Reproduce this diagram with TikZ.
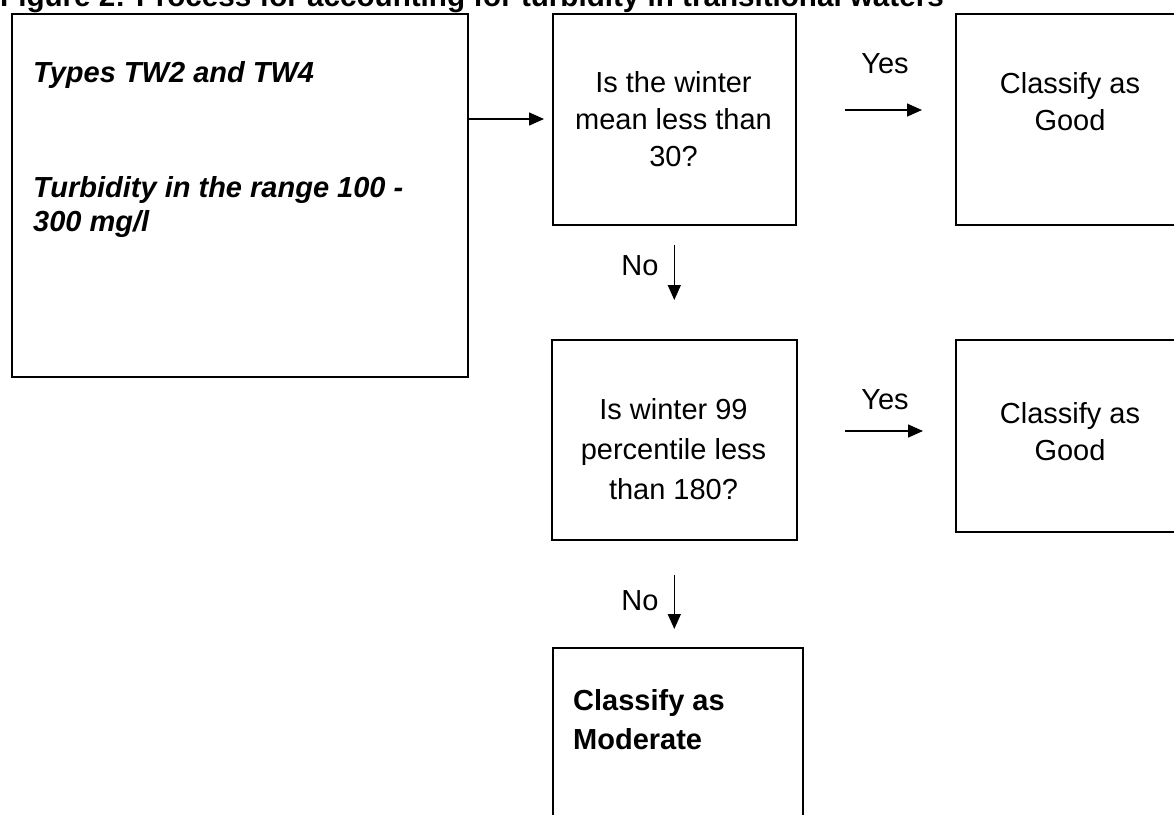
\documentclass[tikz,border=0pt]{standalone}
\usepackage{fontspec}
\setmainfont{Liberation Sans}
\usetikzlibrary{arrows.meta}
\tikzset{
  box/.style={draw=black, line width=1.6pt, rectangle, inner sep=0pt, anchor=north west},
  arr/.style={line width=1.5pt, -{Triangle[length=15pt,width=13pt]}},
  txt/.style={inner sep=0pt, align=center, font=\fontsize{29}{37}\selectfont},
  lbl/.style={inner sep=0pt, font=\fontsize{29}{35}\selectfont},
}
\begin{document}
\begin{tikzpicture}[x=1pt,y=-1pt]
\clip (0,0) rectangle (1174,814);
% title (top cut off)
\node[anchor=base west, inner sep=0pt, font=\bfseries\fontsize{29.6}{35}\selectfont] (title) at (0,6) {Figure 2: Process for accounting for turbidity in transitional waters};
% boxes
\node[box, minimum width=456pt, minimum height=363pt] (src) at (11,13) {};
\node[box, minimum width=243pt, minimum height=211pt] (q1) at (552,13) {};
\node[box, minimum width=240pt, minimum height=211pt] (g1) at (955,13) {};
\node[box, minimum width=245pt, minimum height=200pt] (q2) at (551,339) {};
\node[box, minimum width=240pt, minimum height=192pt] (g2) at (955,339) {};
\node[box, minimum width=250pt, minimum height=200pt] (m) at (552,647) {};
% texts
\node[inner sep=0pt, anchor=west, font=\bfseries\itshape\fontsize{29}{34}\selectfont] (srct1) at (33,75) {Types TW2 and TW4};
\node[inner sep=0pt, anchor=west, align=left, font=\bfseries\itshape\fontsize{29}{34}\selectfont] (srct2) at (33,207) {Turbidity in the range 100 -\\300 mg/l};
\node[txt, font=\fontsize{29}{37}\selectfont] (q1t) at (673.5,119) {Is the winter\\mean less than\\30?};
\node[txt, font=\fontsize{29}{37}\selectfont] (g1t) at (1070,102) {Classify as\\Good};
\node[txt, font=\fontsize{29}{40}\selectfont] (q2t) at (673.5,449) {Is winter 99\\percentile less\\than 180?};
\node[txt, font=\fontsize{29}{37}\selectfont] (g2t) at (1070,432) {Classify as\\Good};
\node[inner sep=0pt, anchor=west, align=left, font=\bfseries\fontsize{29}{39}\selectfont] (mt) at (573,720) {Classify as\\Moderate};
% connectors
\draw[arr, shorten >=8pt] (src.east |- q1t) -- (q1.west |- q1t);
\coordinate (ya1) at (845,110);
\coordinate (yb1) at (922,110);
\draw[arr] (ya1) -- (yb1);
\node[lbl] (yes1) at (885,64) {Yes};
\draw[arr, shorten <=19pt, shorten >=39pt] (q1.south) -- (q1.south |- q2.north);
\node[lbl] (no1) at (640,266) {No};
\coordinate (ya2) at (845,431);
\coordinate (yb2) at (923,431);
\draw[arr] (ya2) -- (yb2);
\node[lbl] (yes2) at (885,400) {Yes};
\draw[arr, shorten <=34pt, shorten >=18pt] (q2.south) -- (q2.south |- m.north);
\node[lbl] (no2) at (640,601) {No};
\end{tikzpicture}
\end{document}
